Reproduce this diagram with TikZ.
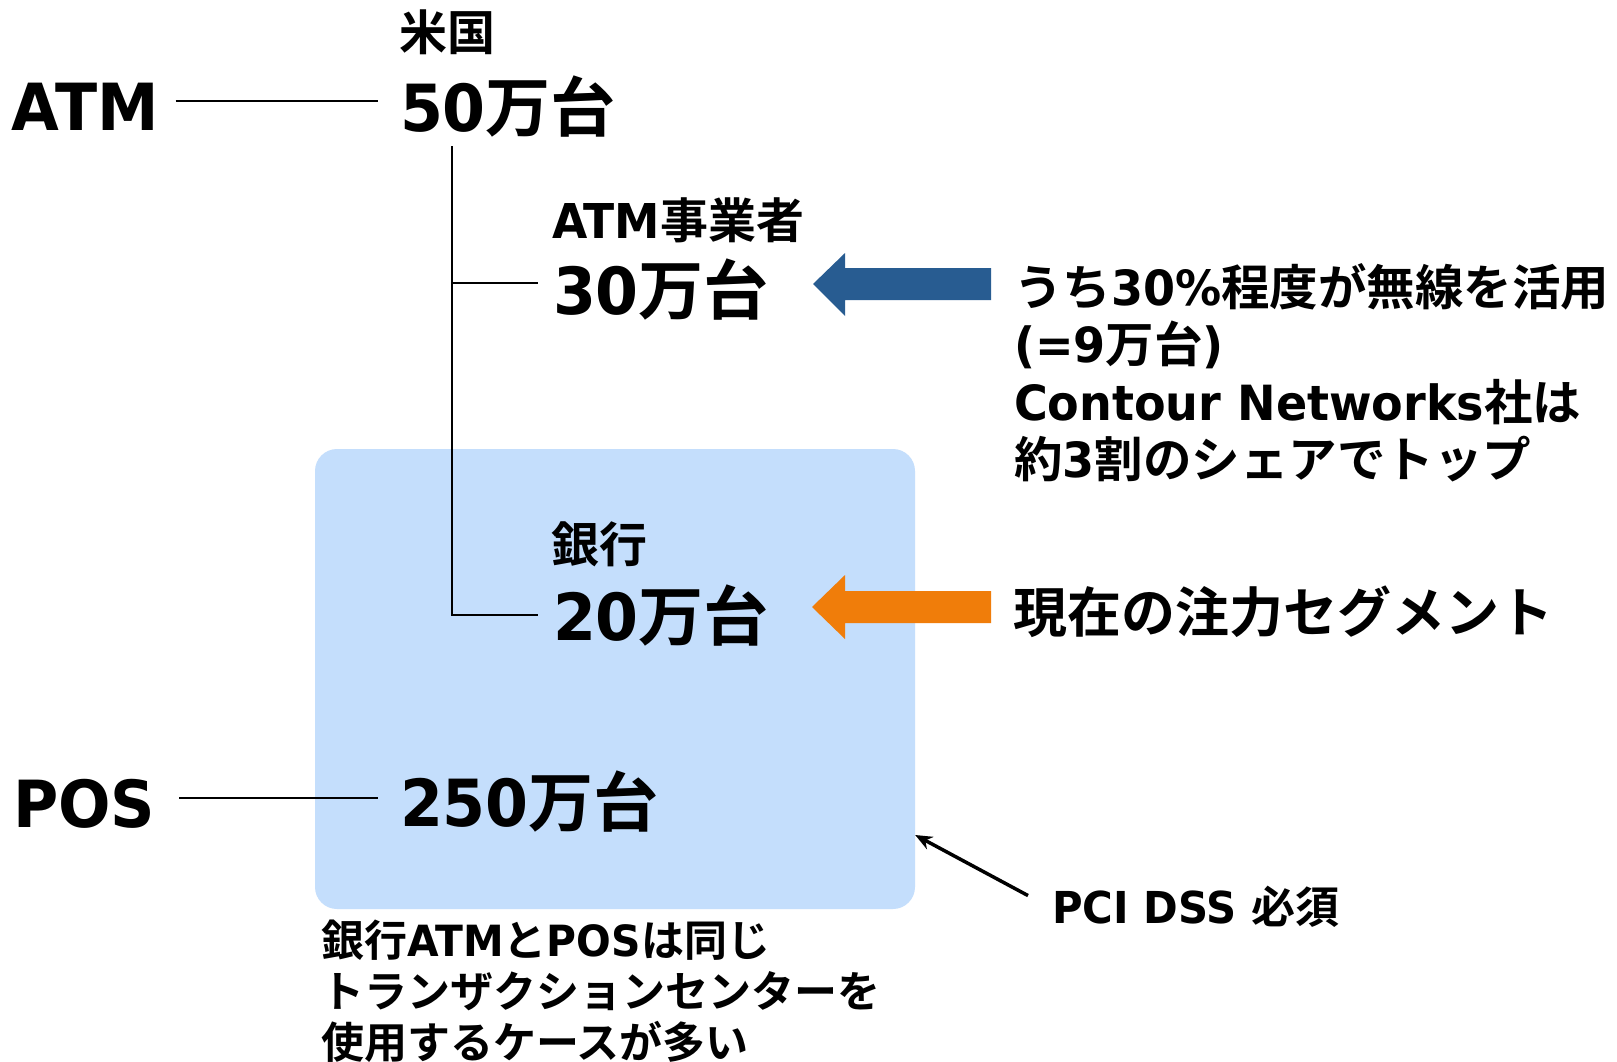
\documentclass[tikz,border=0pt]{standalone}
\usepackage{fontspec}
\newfontfamily\la{DejaVu Sans Bold}[FakeStretch=0.95]
\newfontfamily\jp{Noto Sans CJK JP Bold}
\newcommand\lt[1]{{\la #1}}
\usetikzlibrary{arrows.meta,calc}
\definecolor{boxblue}{RGB}{196,222,252}
\definecolor{arrblue}{RGB}{40,92,145}
\definecolor{arrorange}{RGB}{240,125,10}
\begin{document}
\begin{tikzpicture}[x=1pt,y=-1pt,
  txt/.style={inner sep=0pt, outer sep=0pt, anchor=base west, text=black},
  big/.style={txt, font=\jp\fontsize{65}{70}\selectfont},
  lbl/.style={txt, font=\jp\fontsize{48}{54}\selectfont},
  cat/.style={txt, font=\jp\fontsize{65}{70}\selectfont},
  conn/.style={line width=2.4pt, black},
  pciarrow/.style={line width=3.5pt, black, -{Stealth[length=17pt,width=14pt]}},
  segbox/.style={fill=boxblue, draw=none, rounded corners=22pt, inner sep=0pt}
]
\useasboundingbox[fill=white] (0,0) rectangle (1617,1061);

% highlighted area
\node[segbox, minimum width=600pt, minimum height=460pt] (box) at (615,679) {};

% left categories
\node[cat] (atm) at (12,130) {\lt{ATM}};
\node[cat] (pos) at (13,827) {\lt{POS}};

% numbers
\node[lbl] (us) at (399,50) {米国};
\node[big] (n50) at (400,131) {\lt{50}万台};
\node[lbl] (op) at (552,238) {\lt{ATM}事業者};
\node[big] (n30) at (553,314) {\lt{30}万台};
\node[lbl] (bank) at (551,562) {銀行};
\node[big] (n20) at (553,640) {\lt{20}万台};
\node[big] (n250) at (400,826) {\lt{250}万台};

% connectors
\draw[conn, shorten <=17pt, shorten >=22pt] (atm.east |- 0,101) -- (n50.west |- 0,101);
\draw[conn, shorten <=24pt, shorten >=22pt] (pos.east |- 0,798) -- (n250.west |- 0,798);
\coordinate (trunk) at (452,146);
\draw[conn, shorten >=15pt] (trunk) |- (n20.west);
\draw[conn, shorten >=15pt] (trunk |- 0,283) -- (n30.west |- 0,283);

% block arrows
\fill[arrblue] (813,284) -- (845,253) -- (845,268) -- (991,268) -- (991,300) -- (845,300) -- (845,316) -- cycle;
\fill[arrorange] (812,607) -- (845,575) -- (845,591) -- (991,591) -- (991,623) -- (845,623) -- (845,639) -- cycle;

% right texts
\node[txt, anchor=north west, align=left, font=\jp\fontsize{48.5}{57.5}\selectfont] (note) at (1014,263)
  {うち\lt{30\%}程度が無線を活用\\\lt{(=9}万台\lt{)}\\\lt{Contour Networks}社は\\約\lt{3}割のシェアでトップ};
\node[txt, font=\jp\fontsize{54}{60}\selectfont] (seg) at (1013,632) {現在の注力セグメント};

% PCI DSS
\node[txt, font=\jp\fontsize{44}{50}\selectfont] (pci) at (1052,923) {\lt{PCI DSS }必須};
\draw[pciarrow] ([xshift=-24pt,yshift=-10pt]pci.north west) -- (box.east |- 0,835);

% bottom note
\node[txt, anchor=north west, align=left, font=\jp\fontsize{43}{51}\selectfont] (bottom) at (321,920)
  {銀行\lt{ATM}と\lt{POS}は同じ\\トランザクションセンターを\\使用するケースが多い};
\end{tikzpicture}
\end{document}
